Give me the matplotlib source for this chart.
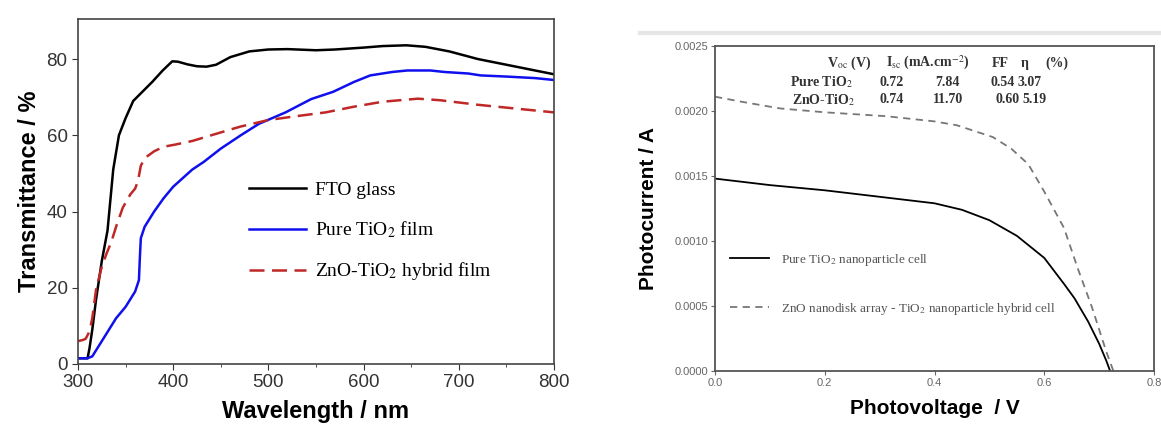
import matplotlib
matplotlib.use("Agg")
import matplotlib.pyplot as plt
from matplotlib.lines import Line2D
from matplotlib.ticker import MultipleLocator

plt.rcParams['font.family'] = ['Liberation Sans', 'DejaVu Sans']
plt.rcParams['mathtext.fontset'] = 'stix'

# ---- left panel: UV-vis transmittance ----
wl_fto = [300, 305, 310, 312, 315, 319, 325, 331, 337, 343, 350, 358, 368, 378, 389, 399, 405, 415,
          425, 435, 445, 460, 480, 500, 520, 550, 570, 600, 620, 645, 665, 690, 720, 750, 780, 800]
t_fto = [1.5, 1.5, 1.5, 4, 9, 17, 27, 35, 51, 60, 64.5, 69, 71.5, 74, 77, 79.4, 79.3, 78.6,
         78.1, 78.0, 78.5, 80.5, 82.0, 82.5, 82.6, 82.3, 82.5, 83.0, 83.4, 83.6, 83.2, 82.0, 80.0, 78.5, 77.0, 76.0]

wl_tio2 = [300, 305, 310, 315, 320, 330, 340, 350, 360, 364, 365, 366, 370, 380, 390, 400, 420, 432,
           450, 471, 490, 518, 545, 568, 590, 607, 630, 646, 670, 685, 710, 723, 750, 780, 800]
t_tio2 = [1.5, 1.5, 1.5, 2.0, 4.0, 8.0, 12.0, 15.0, 19.0, 22.0, 28.0, 33.0, 36.0, 40.0, 43.5, 46.5, 51.0, 53.0,
          56.5, 60.0, 63.0, 66.0, 69.5, 71.4, 74.0, 75.7, 76.6, 77.0, 77.0, 76.6, 76.2, 75.7, 75.4, 75.0, 74.5]

wl_zno = [300, 305, 308, 312, 315, 319, 325, 330, 335, 340, 347, 355, 360, 363, 366, 370, 380, 390,
          401, 420, 440, 460, 471, 500, 529, 560, 590, 620, 657, 680, 720, 760, 800]
t_zno = [6.0, 6.3, 6.6, 8.5, 12.0, 19.6, 25.5, 29.0, 32.0, 36.0, 41.0, 44.5, 46.0, 48.0, 52.0, 54.0, 55.8, 57.0,
         57.5, 58.5, 60.0, 61.5, 62.3, 64.0, 65.0, 66.0, 67.5, 68.8, 69.6, 69.2, 68.0, 67.0, 66.0]

# ---- right panel: J-V curves ----
v_pure = [0.0, 0.05, 0.1, 0.15, 0.2, 0.25, 0.3, 0.35, 0.4, 0.45, 0.5, 0.55, 0.6, 0.636, 0.655, 0.68, 0.7, 0.713, 0.72]
i_pure = [0.00148, 0.001455, 0.00143, 0.00141, 0.00139, 0.001365, 0.00134, 0.001315, 0.00129, 0.00124, 0.00116,
          0.00104, 0.00087, 0.00067, 0.00056, 0.00038, 0.00021, 0.00008, 0.0]

v_zno = [0.0, 0.05, 0.118, 0.2, 0.312, 0.4, 0.441, 0.506, 0.54, 0.571, 0.6, 0.636, 0.661, 0.687, 0.713, 0.726]
i_zno = [0.00211, 0.00207, 0.00202, 0.00199, 0.00196, 0.00192, 0.00189, 0.0018, 0.00171, 0.00159, 0.00138,
         0.0011, 0.00079, 0.00049, 0.00015, 0.0]

table_cols = ["V$_\\mathrm{oc}$ (V)", "I$_\\mathrm{sc}$ (mA.cm$^{-2}$)", "FF", "\u03b7", "(%)"]
table_rows = ["Pure TiO$_2$", "ZnO-TiO$_2$"]
table_vals = [["0.72", "7.84", "0.54", "3.07"], ["0.74", "11.70", "0.60", "5.19"]]

fig = plt.figure(figsize=(11.61, 4.25), dpi=100)

# left axes
ax1 = fig.add_axes([78 / 1161, 1 - 364 / 425, 476 / 1161, 345 / 425])
ax1.plot(wl_fto, t_fto, color='black', lw=1.8, label='FTO glass')
ax1.plot(wl_tio2, t_tio2, color='#1010ee', lw=1.8, label='Pure TiO$_2$ film')
ax1.plot(wl_zno, t_zno, color='#c02828', lw=1.8, dashes=(6, 3), label='ZnO-TiO$_2$ hybrid film')
ax1.set_xlim(300, 800)
ax1.set_ylim(0, 90.5)
ax1.set_xticks([300, 400, 500, 600, 700, 800])
ax1.set_yticks([0, 20, 40, 60, 80])
ax1.xaxis.set_minor_locator(MultipleLocator(50))
ax1.tick_params(which='both', direction='out', labelsize=13.5, colors='#333333')
ax1.tick_params(which='major', length=4)
ax1.tick_params(which='minor', length=2.5)
for s in ax1.spines.values():
    s.set_color('#444444')
    s.set_linewidth(1.2)
ax1.set_xlabel('Wavelength / nm', fontsize=17, fontweight='bold', labelpad=6)
ax1.set_ylabel('Transmittance / %', fontsize=17, fontweight='bold', labelpad=4)
ax1.legend(loc='center left', bbox_to_anchor=(0.36, 0.383), frameon=False,
           prop={'family': 'Liberation Serif', 'size': 14}, handlelength=2.9,
           handletextpad=0.5, labelspacing=1.05, borderpad=0, borderaxespad=0)

# right axes
ax2 = fig.add_axes([715 / 1161, 1 - 371 / 425, 439 / 1161, 325 / 425])
ax2.plot(v_pure, i_pure, color='black', lw=1.3, label='Pure TiO$_2$ nanoparticle cell')
ax2.plot(v_zno, i_zno, color='#777777', lw=1.3, dashes=(4, 3),
         label='ZnO nanodisk array - TiO$_2$ nanoparticle hybrid cell')
ax2.set_xlim(0, 0.8)
ax2.set_ylim(0, 0.0025)
ax2.set_xticks([0.0, 0.2, 0.4, 0.6, 0.8])
ax2.set_xticklabels(['0.0', '0.2', '0.4', '0.6', '0.8'])
ax2.set_yticks([0, 0.0005, 0.001, 0.0015, 0.002, 0.0025])
ax2.set_yticklabels(['0.0000', '0.0005', '0.0010', '0.0015', '0.0020', '0.0025'])
ax2.tick_params(direction='out', length=3, labelsize=8, colors='#666666', pad=2)
for s in ax2.spines.values():
    s.set_color('#555555')
    s.set_linewidth(1.3)
ax2.set_xlabel('Photovoltage  / V', fontsize=15, fontweight='bold', labelpad=8)
ax2.set_ylabel('Photocurrent / A', fontsize=15, fontweight='bold', labelpad=12)
ax2.legend(loc='center left', bbox_to_anchor=(0.027 / 0.8, 0.000668 / 0.0025), frameon=False,
           prop={'family': 'Liberation Serif', 'size': 9.5}, handlelength=3,
           handletextpad=0.9, labelspacing=2.5, borderpad=0, borderaxespad=0, labelcolor='#555555')

# parameter table inside right panel
tfont = dict(family='Liberation Serif', fontweight='bold', fontsize=10, color='#333333', va='center', ha='center')
col_x = [0.244, 0.388, 0.519, 0.565, 0.623]
for x, lab in zip(col_x, table_cols):
    ax2.text(x, 0.002369, lab, **tfont)
row_y = [0.002223, 0.002085]
row_x = [0.193, 0.197]
val_x = [[0.321, 0.423, 0.525, 0.574], [0.321, 0.425, 0.534, 0.583]]
for r in range(2):
    ax2.text(row_x[r], row_y[r], table_rows[r], **tfont)
    for x, v in zip(val_x[r], table_vals[r]):
        ax2.text(x, row_y[r], v, **tfont)

# faint scan line above the right panel
fig.add_artist(Line2D([640 / 1161, 1.0], [1 - 33 / 425, 1 - 33 / 425], color='#e6e6e6', lw=3))

fig.savefig('out.png', dpi=100)
